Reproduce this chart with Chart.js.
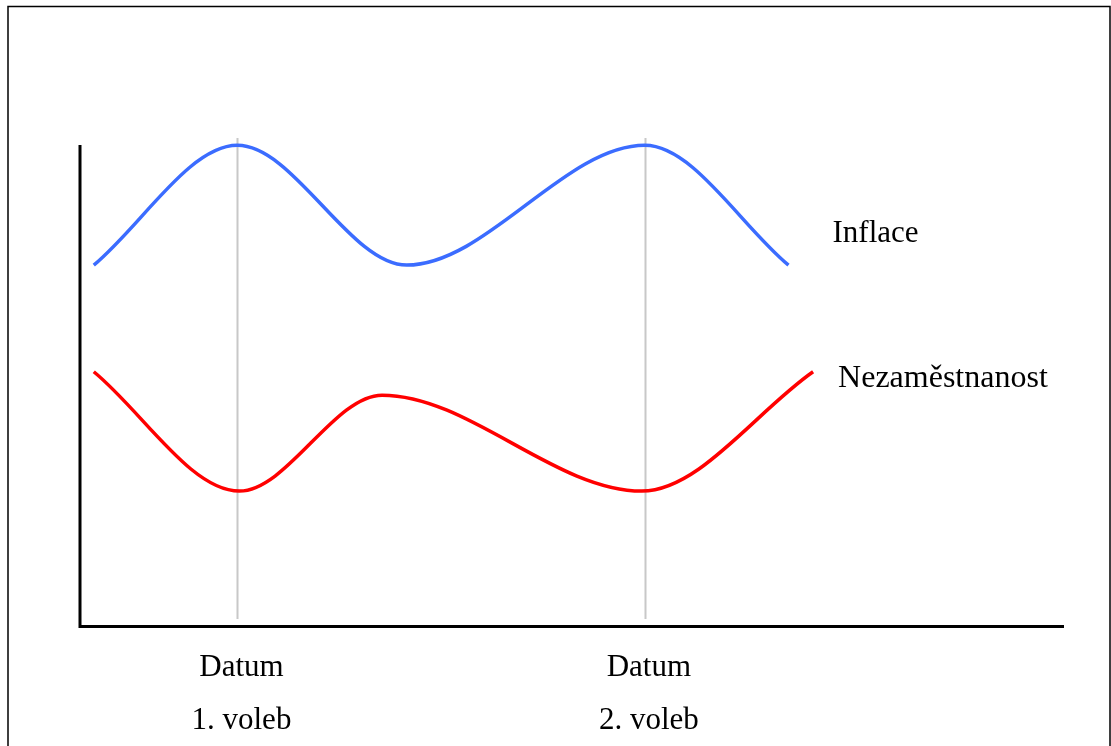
<!DOCTYPE html>
<html>
<head>
<meta charset="utf-8">
<script src="https://cdn.jsdelivr.net/npm/chart.js@4"></script>
<style>
  html, body { margin: 0; padding: 0; background: #fff; }
  #wrap { position: relative; width: 1111px; height: 746px; }
</style>
</head>
<body>
<div id="wrap"><canvas id="graf"></canvas></div>
<script>
// Hodnoty (osa x: 0-100, osa y: 0-100)
const tickPositions = [16, 57.4];
const tickLabels = [['Datum', '1. voleb'], ['Datum', '2. voleb']];

const inflaceX = [1.4, 16, 33.2, 57.4, 72];
const inflaceY = [73.9, 98.5, 73.9, 98.5, 73.9];

const nezamX = [1.4, 16.2, 30.7, 57.1, 74.5];
const nezamY = [52, 27.5, 47.2, 27.5, 52];

const seriesNames = ['Inflace', 'Nezaměstnanost'];

const toPoints = (xs, ys) => xs.map((x, i) => ({ x: x, y: ys[i] }));

// Popisky řad, osy a rámeček kreslím sám
const kresba = {
  id: 'kresba',
  beforeDatasetsDraw(chart) {
    const ctx = chart.ctx;
    const xs = chart.scales.x;
    const area = chart.chartArea;
    ctx.save();
    // svislé šedé čáry u ticků
    ctx.strokeStyle = '#c8c8c8';
    ctx.lineWidth = 2;
    tickPositions.forEach(v => {
      const px = Math.round(xs.getPixelForValue(v)) + 0.5;
      ctx.beginPath();
      ctx.moveTo(px, area.top);
      ctx.lineTo(px, area.bottom - 6);
      ctx.stroke();
    });
    // osy
    ctx.strokeStyle = '#000';
    ctx.lineWidth = 3;
    ctx.beginPath();
    ctx.moveTo(area.left, area.top + 7);
    ctx.lineTo(area.left, area.bottom + 1.5);
    ctx.lineTo(area.right, area.bottom + 1.5);
    ctx.stroke();
    // rámeček
    ctx.lineWidth = 1.5;
    ctx.beginPath();
    ctx.moveTo(8, 760);
    ctx.lineTo(8, 6.5);
    ctx.lineTo(1110, 6.5);
    ctx.lineTo(1110, 760);
    ctx.stroke();
    ctx.restore();
  },
  afterDatasetsDraw(chart) {
    const ctx = chart.ctx;
    const offsets = [[44, -23], [25, 15]];
    const sizes = [31, 32];
    ctx.save();
    ctx.fillStyle = '#000';
    ctx.textAlign = 'left';
    ctx.textBaseline = 'alphabetic';
    chart.data.datasets.forEach((ds, i) => {
      const pts = chart.getDatasetMeta(i).data;
      const last = pts[pts.length - 1];
      ctx.font = sizes[i] + 'px "Liberation Serif"';
      ctx.fillText(ds.label, last.x + offsets[i][0], last.y + offsets[i][1]);
    });
    ctx.restore();
  }
};

new Chart(document.getElementById('graf'), {
  type: 'line',
  data: {
    datasets: [
      {
        label: seriesNames[0],
        data: toPoints(inflaceX, inflaceY),
        borderColor: '#3b6cff',
        borderWidth: 3.5,
        pointRadius: 0,
        cubicInterpolationMode: 'monotone',
        fill: false
      },
      {
        label: seriesNames[1],
        data: toPoints(nezamX, nezamY),
        borderColor: '#ff0000',
        borderWidth: 3.5,
        pointRadius: 0,
        cubicInterpolationMode: 'monotone',
        fill: false
      }
    ]
  },
  options: {
    responsive: true,
    maintainAspectRatio: false,
    animation: false,
    layout: { padding: { left: 80, right: 47, top: 138, bottom: 0 } },
    plugins: {
      legend: { display: false },
      tooltip: { enabled: false }
    },
    scales: {
      x: {
        type: 'linear',
        min: 0,
        max: 100,
        afterBuildTicks: scale => {
          scale.ticks = tickPositions.map(v => ({ value: v }));
        },
        afterFit: scale => { scale.height = 121; },
        grid: { display: false, drawTicks: false },
        border: { display: false },
        ticks: {
          autoSkip: false,
          maxRotation: 0,
          padding: 16,
          labelOffset: 4,
          color: '#000',
          font: { family: 'Liberation Serif', size: 31, lineHeight: '53px' },
          callback: (value, index) => tickLabels[index]
        }
      },
      y: {
        display: false,
        min: 0,
        max: 100
      }
    }
  },
  plugins: [kresba]
});
</script>
</body>
</html>
